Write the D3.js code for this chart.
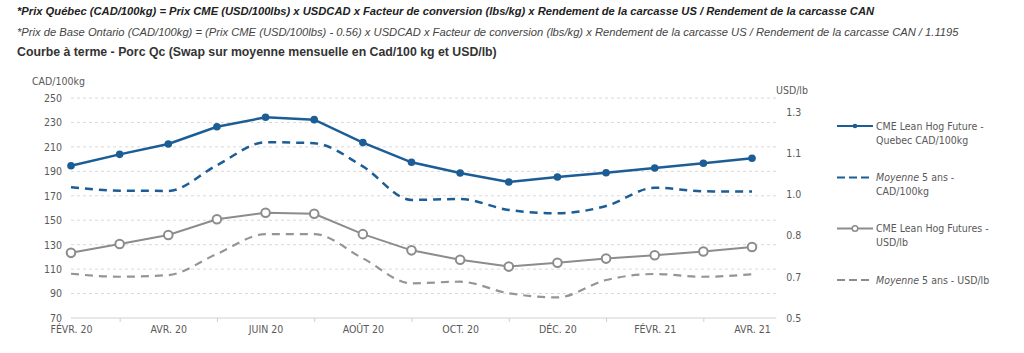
<!DOCTYPE html>
<html>
<head>
<meta charset="utf-8">
<script src="https://cdn.jsdelivr.net/npm/d3@7"></script>
<style>
  body { margin: 0; background: #fff; }
  svg { display: block; }
</style>
</head>
<body>
<div id="chart"></div>
<script>
// data
const months = ["FÉVR. 20", "MARS 20", "AVR. 20", "MAI 20", "JUIN 20", "JUIL. 20", "AOÛT 20", "SEPT. 20",
  "OCT. 20", "NOV. 20", "DÉC. 20", "JANV. 21", "FÉVR. 21", "MARS 21", "AVR. 21"];
const quebecCad = [194.6, 203.9, 212.4, 226.5, 234.2, 232.3, 213.5, 197.4, 188.6, 181.3, 185.4, 188.9, 192.7, 196.6, 200.7];
const avgCad = [177, 174.2, 174, 195, 213.8, 213, 194, 166.6, 167.4, 158.4, 155.7, 161.6, 176.6, 173.7, 173.4];
const cmeUsd = [0.737, 0.769, 0.802, 0.859, 0.883, 0.879, 0.805, 0.746, 0.712, 0.687, 0.701, 0.716, 0.728, 0.742, 0.758];
const avgUsd = [0.661, 0.650, 0.656, 0.733, 0.805, 0.805, 0.717, 0.626, 0.632, 0.590, 0.575, 0.638, 0.660, 0.650, 0.659];
const leftTicks = [70, 90, 110, 130, 150, 170, 190, 210, 230, 250];
const rightTicks = [0.5, 0.65, 0.8, 0.95, 1.1, 1.25];
const rightTickLabels = ["0.5", "0.7", "0.8", "1.0", "1.1", "1.3"];
const titleLines = [
  "*Prix Québec (CAD/100kg) = Prix CME (USD/100lbs) x USDCAD x Facteur de conversion (lbs/kg) x Rendement de la carcasse US / Rendement de la carcasse CAN",
  "*Prix de Base Ontario (CAD/100kg) = (Prix CME (USD/100lbs) - 0.56) x USDCAD x Facteur de conversion (lbs/kg) x Rendement de la carcasse US / Rendement de la carcasse CAN / 1.1195",
  "Courbe à terme - Porc Qc (Swap sur moyenne mensuelle en Cad/100 kg et USD/lb)"
];

const blue = "#1c5d95";
const gray = "#8c8c8c";
const textGray = "#595959";
const chartFont = "'DejaVu Sans Condensed', 'DejaVu Sans', sans-serif";

const width = 1024;
const height = 353;

const svg = d3.select("#chart")
  .append("svg")
    .attr("width", width)
    .attr("height", height);

/* titles */
const titleStyles = [
  {weight: "bold", style: "italic", color: "#222", y: 15, size: 11.2},
  {weight: "normal", style: "italic", color: "#444", y: 35.5, size: 11.2},
  {weight: "bold", style: "normal", color: "#333", y: 55.5, size: 12.3}
];
titleLines.forEach((t, i) => {
  svg.append("text")
    .text(t)
    .attr("x", 17)
    .attr("y", titleStyles[i].y)
    .attr("font-family", "'Liberation Sans', Arial, sans-serif")
    .attr("font-size", titleStyles[i].size)
    .attr("font-weight", titleStyles[i].weight)
    .attr("font-style", titleStyles[i].style)
    .attr("fill", titleStyles[i].color);
});

/* scales */
const xScale = d3.scalePoint()
  .domain(months)
  .range([71, 752]);
const step = xScale.step();

const yLeft = d3.scaleLinear()
  .domain([70, 250])
  .range([318, 98]);
const yRight = d3.scaleLinear()
  .domain([0.5, 1.3])
  .range([318, 98]);

const x0 = xScale(months[0]);
const x1 = xScale(months[months.length - 1]) + step / 2;

/* gridlines */
svg.append("g")
  .selectAll("line")
  .data(leftTicks.slice(1))
  .join("line")
    .attr("x1", x0)
    .attr("x2", x1)
    .attr("y1", d => yLeft(d))
    .attr("y2", d => yLeft(d))
    .attr("stroke", "#d9d9d9")
    .attr("stroke-dasharray", "3,3");

/* axes */
const leftAxis = d3.axisLeft(yLeft)
  .tickValues(leftTicks)
  .tickSize(0)
  .tickPadding(9);
svg.append("g")
  .attr("transform", `translate(${x0}, 0)`)
  .call(leftAxis)
  .call(g => g.select(".domain").remove());

const rightAxis = d3.axisRight(yRight)
  .tickValues(rightTicks)
  .tickFormat((d, i) => rightTickLabels[i])
  .tickSize(0)
  .tickPadding(10);
svg.append("g")
  .attr("transform", `translate(${x1}, 0)`)
  .call(rightAxis)
  .call(g => g.select(".domain").remove());

// bottom axis: line, ticks between labels, labels every two months
svg.append("line")
  .attr("x1", x0)
  .attr("x2", x1)
  .attr("y1", yLeft(70))
  .attr("y2", yLeft(70))
  .attr("stroke", "#d0d0d0");

const tickAxis = d3.axisBottom(xScale)
  .tickValues(months.filter((d, i) => i % 2 === 1))
  .tickFormat("")
  .tickSize(4)
  .tickSizeOuter(0);
svg.append("g")
  .attr("transform", `translate(0, ${yLeft(70)})`)
  .call(tickAxis)
  .call(g => g.select(".domain").remove())
  .call(g => g.selectAll(".tick line").attr("stroke", "#d0d0d0"));

const bottomAxis = d3.axisBottom(xScale)
  .tickValues(months.filter((d, i) => i % 2 === 0))
  .tickSize(0)
  .tickPadding(8);
svg.append("g")
  .attr("transform", `translate(0, ${yLeft(70)})`)
  .call(bottomAxis)
  .call(g => g.select(".domain").remove());

svg.selectAll(".tick text")
  .attr("font-family", chartFont)
  .attr("font-size", 10.5)
  .attr("fill", textGray);

svg.append("text")
  .text("CAD/100kg")
  .attr("x", 32)
  .attr("y", 84.5)
  .attr("font-family", chartFont)
  .attr("font-size", 10.5)
  .attr("fill", textGray);
svg.append("text")
  .text("USD/lb")
  .attr("x", 776)
  .attr("y", 94)
  .attr("font-family", chartFont)
  .attr("font-size", 10.5)
  .attr("fill", textGray);

/* lines */
const straight = (scale) => d3.line()
  .x((d, i) => xScale(months[i]))
  .y(d => scale(d));
const smooth = (scale) => d3.line()
  .x((d, i) => xScale(months[i]))
  .y(d => scale(d))
  .curve(d3.curveMonotoneX);

svg.append("path")
  .attr("d", smooth(yRight)(avgUsd))
  .attr("fill", "none")
  .attr("stroke", "#959595")
  .attr("stroke-width", 2.2)
  .attr("stroke-dasharray", "8,6");

svg.append("path")
  .attr("d", straight(yRight)(cmeUsd))
  .attr("fill", "none")
  .attr("stroke", gray)
  .attr("stroke-width", 2);

svg.append("g")
  .selectAll("circle")
  .data(cmeUsd)
  .join("circle")
    .attr("cx", (d, i) => xScale(months[i]))
    .attr("cy", d => yRight(d))
    .attr("r", 4.3)
    .attr("fill", "#fff")
    .attr("stroke", gray)
    .attr("stroke-width", 2);

svg.append("path")
  .attr("d", smooth(yLeft)(avgCad))
  .attr("fill", "none")
  .attr("stroke", blue)
  .attr("stroke-width", 2.5)
  .attr("stroke-dasharray", "8,6");

svg.append("path")
  .attr("d", straight(yLeft)(quebecCad))
  .attr("fill", "none")
  .attr("stroke", blue)
  .attr("stroke-width", 2.5);

svg.append("g")
  .selectAll("circle")
  .data(quebecCad)
  .join("circle")
    .attr("cx", (d, i) => xScale(months[i]))
    .attr("cy", d => yLeft(d))
    .attr("r", 3.8)
    .attr("fill", blue);

/* legend */
const legendItems = [
  {lines: ["CME Lean Hog Future -", "Quebec CAD/100kg"], color: blue, dash: null, marker: "dot", y: 126},
  {lines: ["Moyenne 5 ans -", "CAD/100kg"], color: blue, dash: "8,4", marker: null, y: 177.5},
  {lines: ["CME Lean Hog Futures -", "USD/lb"], color: gray, dash: null, marker: "ring", y: 228.5},
  {lines: ["Moyenne 5 ans - USD/lb"], color: gray, dash: "8,4", marker: null, y: 280}
];

const legend = svg.append("g");
legendItems.forEach(item => {
  const g = legend.append("g").attr("transform", `translate(837, ${item.y})`);
  g.append("line")
    .attr("x1", 0)
    .attr("x2", 36)
    .attr("stroke", item.color)
    .attr("stroke-width", 2)
    .attr("stroke-dasharray", item.dash);
  if (item.marker === "dot") {
    g.append("circle").attr("cx", 18).attr("r", 2.3).attr("fill", item.color);
  } else if (item.marker === "ring") {
    g.append("circle").attr("cx", 18).attr("r", 2.8)
      .attr("fill", "#fff").attr("stroke", item.color).attr("stroke-width", 1.5);
  }
  item.lines.forEach((l, j) => {
    const t = g.append("text")
      .attr("x", 39)
      .attr("y", j * 14 + 3.8)
      .attr("font-family", chartFont)
      .attr("font-size", 10.5)
      .attr("fill", textGray);
    if (l.startsWith("Moyenne")) {
      t.append("tspan").attr("font-style", "italic").text("Moyenne");
      t.append("tspan").text(l.slice(7));
    } else {
      t.text(l);
    }
  });
});
</script>
</body>
</html>
